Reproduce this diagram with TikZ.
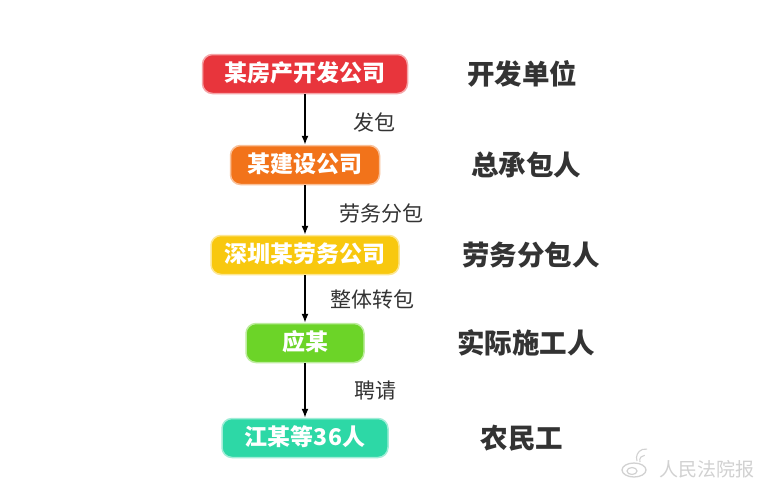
\documentclass[tikz,border=0pt]{standalone}
\usepackage{fontspec}
\newfontfamily\cjk{Noto Sans CJK SC}
\usetikzlibrary{positioning,arrows.meta}
\definecolor{devred}{HTML}{E8353C}
\definecolor{genorange}{HTML}{F2731A}
\definecolor{labyellow}{HTML}{F8C80F}
\definecolor{yinggreen}{HTML}{6CD428}
\definecolor{workteal}{HTML}{2DD8A6}
\definecolor{rolegray}{HTML}{333333}
\tikzset{company/.style={rounded corners=10pt,minimum height=39pt,inner xsep=12pt,text=white,line width=1.5pt,
  font=\cjk\bfseries\fontsize{23}{23}\selectfont,text height=17.5pt,text depth=3pt}}
\tikzset{role/.style={text=rolegray,font=\cjk\bfseries\fontsize{27.5}{27.5}\selectfont}}
\tikzset{deal/.style={text=rolegray,font=\cjk\fontsize{21}{21}\selectfont,anchor=west}}

\begin{document}
\begin{tikzpicture}[x=1pt,y=-1pt,>={Latex[length=9pt,width=7pt]}]
        \useasboundingbox[fill=white] (0,0) rectangle (762,488);
        % companies
        \node[company,fill=devred,draw=devred!45,minimum width=205pt] (dev) at (305,74) {某房产开发公司};
        \node[company,fill=genorange,draw=genorange!45,minimum width=149pt] (general) at (305,165) {某建设公司};
        \node[company,fill=labyellow,draw=labyellow!45,minimum width=188pt] (labour) at (305,255) {深圳某劳务公司};
        \node[company,fill=yinggreen,draw=yinggreen!45,minimum width=118pt] (ying) at (305,343) {应某};
        \node[company,fill=workteal,draw=workteal!45,minimum width=166pt] (workers) at (305,438) {江某等36人};
        % contracts
            \path[draw,->,line width=1.4pt] (dev) -- node[deal,right=44pt,yshift=-3pt] (d1) {发包} (general);
            \path[draw,->,line width=1.4pt] (general) -- node[deal,right=30pt,yshift=-3pt] (d2) {劳务分包} (labour);
            \path[draw,->,line width=1.4pt] (labour) -- node[deal,right=21pt] (d3) {整体转包} (ying);
            \path[draw,->,line width=1.4pt] (ying) -- node[deal,right=45pt] (d4) {聘请} (workers);
        % roles
        \node[role] (rdev) at (dev -| 522,0) {开发单位};
        \node[role] (rgeneral) at (general -| 526,0) {总承包人};
        \node[role] (rlabour) at (labour -| 531,0) {劳务分包人};
        \node[role] (rying) at (ying -| 526,0) {实际施工人};
        \node[role] (rworkers) at (workers -| 522,0) {农民工};
        % watermark
        \node[text=black!18,font=\cjk\fontsize{19}{19}\selectfont] (mark) at (707,469) {人民法院报};
        \draw[black!18,line width=1.3pt] (634,470) ellipse (12pt and 7pt);
        \draw[black!18,line width=1.2pt] (632,471) ellipse (5pt and 3.5pt);
        \draw[black!18,line width=1.1pt] (640,462) arc (200:90:5pt);
        \draw[black!18,line width=1.1pt] (637,461) arc (200:80:9pt);
    \end{tikzpicture}
\end{document}
